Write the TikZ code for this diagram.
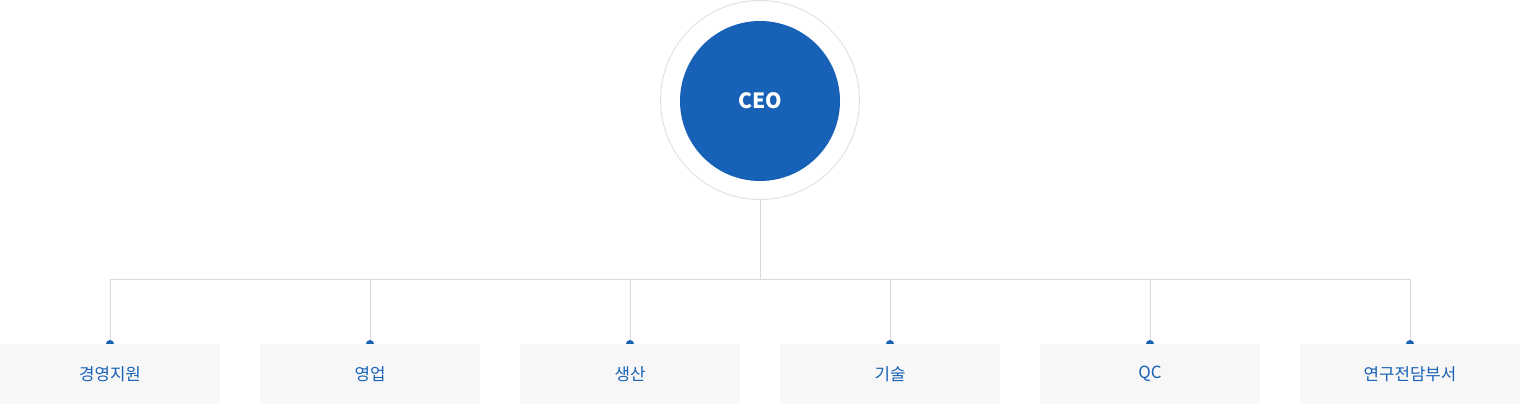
\documentclass[tikz,border=0pt]{standalone}
\usepackage{fontspec}
\setmainfont{Noto Sans CJK KR}
\usepackage{xcolor}
\definecolor{ceoblue}{HTML}{1761B7}
\definecolor{linegray}{HTML}{D9D9D9}
\definecolor{ringgray}{HTML}{E2E2E2}
\definecolor{boxgray}{HTML}{F7F7F7}

\tikzset{
  dept/.style = {fill=boxgray, minimum width=220pt, minimum height=60pt,
                 inner sep=0pt, text=ceoblue, font=\fontsize{16.8pt}{19pt}\selectfont},
  link/.style = {draw=linegray, line width=1pt},
  knob/.style = {fill=ceoblue}
}

\begin{document}
\begin{tikzpicture}[x=1pt, y=-1pt]

\useasboundingbox (0, 0) rectangle (1520, 404);

	% outer ring
\node [circle, draw=ringgray, line width=1pt, minimum size=199pt, inner sep=0pt] (ring) at (760, 100) {};

	% ceo
\node [circle, fill=ceoblue, minimum size=160pt, inner sep=0pt, text=white,
       font=\fontsize{21pt}{24pt}\selectfont\bfseries] (ceo) at (760, 101) {CEO};

	% junction
\coordinate (j) at (760, 279);

	% dots on top of the boxes
\fill [knob] (110, 344) circle (4);
\fill [knob] (370, 344) circle (4);
\fill [knob] (630, 344) circle (4);
\fill [knob] (890, 344) circle (4);
\fill [knob] (1150, 344) circle (4);
\fill [knob] (1410, 344) circle (4);

	% boxes
\node [dept] (mgmt) at (110, 374) {경영지원};
\node [dept] (sales) at (370, 374) {영업};
\node [dept] (prod) at (630, 374) {생산};
\node [dept] (tech) at (890, 374) {기술};
\node [dept] (qc) at (1150, 374) {QC};
\node [dept] (rnd) at (1410, 374) {연구전담부서};

	% trunk
\draw [link] (ring.south) -- (j);

	% branches
\draw [link] (mgmt.north) ++(0, -4) |- (j);
\draw [link] (sales.north) ++(0, -4) |- (j);
\draw [link] (prod.north) ++(0, -4) |- (j);
\draw [link] (tech.north) ++(0, -4) |- (j);
\draw [link] (qc.north) ++(0, -4) |- (j);
\draw [link] (rnd.north) ++(0, -4) |- (j);

\end{tikzpicture}
\end{document}
